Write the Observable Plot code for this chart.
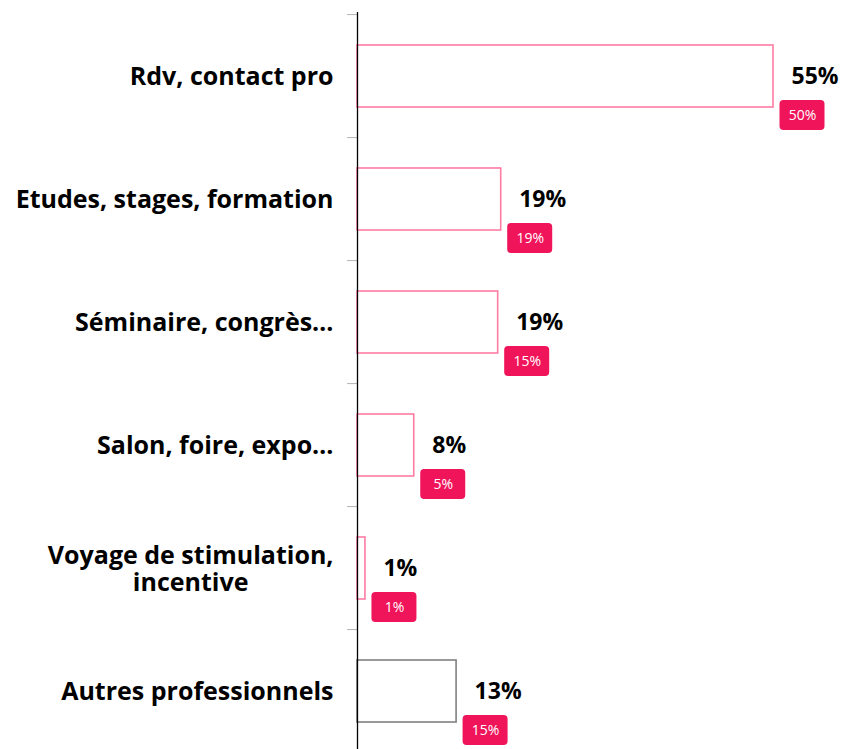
<!DOCTYPE html>
<html><head><meta charset="utf-8">
<script src="https://cdn.jsdelivr.net/npm/d3@7"></script>
<script src="https://cdn.jsdelivr.net/npm/@observablehq/plot@0.6"></script>
<style>body{margin:0;background:#fff;} svg{display:block}</style>
</head><body><div id="chart"></div>
<script>
const categories = ["Rdv, contact pro", "Etudes, stages, formation", "Séminaire, congrès…", "Salon, foire, expo…", "Voyage de stimulation,\nincentive", "Autres professionnels"];
const values = [55, 19, 18.6, 7.5, 1.05, 13.1];
const valueLabels = ["55%", "19%", "19%", "8%", "1%", "13%"];
const badgeLabels = ["50%", "19%", "15%", "5%", "1%", "15%"];
const otherCategory = "Autres professionnels";

const data = categories.map((c, i) => ({category: c, value: values[i], label: valueLabels[i], badge: badgeLabels[i]}));

const W = 843, H = 755, mTop = 12, mBottom = 0, mLeft = 357, mRight = 70;
const step = (H - mTop - mBottom) / categories.length;
const bandwidth = step * 0.5;
const badgeH = 30, badgeW = 45, badgeGap = 6.5, badgeDy = 39;
const pink = "#ff7ca3", gray = "#808080", badgeFill = "#f0145a";
const font = "'Open Sans', sans-serif";

const chart = Plot.plot({
  width: W, height: H,
  marginTop: mTop, marginBottom: mBottom, marginLeft: mLeft, marginRight: mRight,
  style: {fontFamily: font, background: "white", overflow: "visible"},
  x: {domain: [0, 55], axis: null},
  y: {domain: categories, paddingInner: 0.5, paddingOuter: 0.25, axis: null},
  marks: [
    Plot.axisY({tickSize: 10, fill: "none", stroke: "#b3b3b3", strokeOpacity: 1, dy: -step / 2}),
    Plot.text(data, {y: "category", text: "category", frameAnchor: "left", dx: -24, textAnchor: "end",
      fontSize: 25, fontWeight: "bold", fill: "#000", lineHeight: 1.1}),
    Plot.barX(data, {y: "category", x: "value", fill: "white",
      stroke: d => d.category === otherCategory ? gray : pink, strokeWidth: 1.6}),
    Plot.ruleX([0], {stroke: "black", strokeWidth: 1.3}),
    Plot.text(data, {x: "value", y: "category", text: "label", dx: 18, textAnchor: "start",
      fontSize: 23, fontWeight: "bold", fill: "#000"}),
    Plot.barX(data, {x1: "value", x2: "value", y: "category", fill: badgeFill, rx: 4,
      insetLeft: badgeGap, insetRight: -(badgeGap + badgeW),
      insetTop: (bandwidth - badgeH) / 2, insetBottom: (bandwidth - badgeH) / 2, dy: badgeDy}),
    Plot.text(data, {x: "value", y: "category", text: "badge", dx: badgeGap + badgeW / 2, dy: badgeDy,
      fill: "white", fontSize: 14, textAnchor: "middle"})
  ]
});
document.getElementById("chart").append(chart);

// center multi-line category labels on their longest line
chart.querySelectorAll("text").forEach(t => {
  if (t.querySelectorAll("tspan").length > 1) {
    const w = t.getBBox().width;
    t.setAttribute("text-anchor", "middle");
    t.setAttribute("transform", (t.getAttribute("transform") || "") + ` translate(${-w / 2},0)`);
  }
});
</script></body></html>
